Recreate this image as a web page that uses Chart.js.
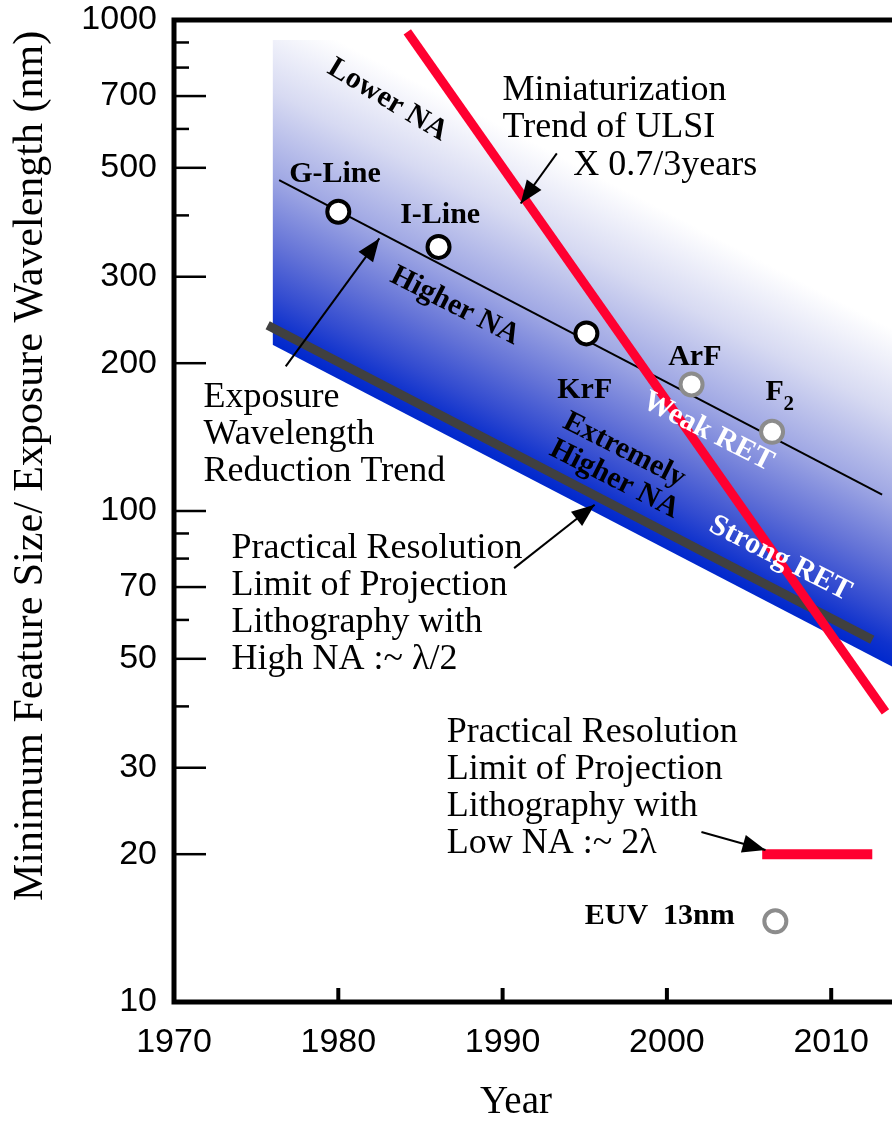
<!DOCTYPE html>
<html>
<head>
<meta charset="utf-8">
<script src="https://cdn.jsdelivr.net/npm/chart.js@4.4.1/dist/chart.umd.min.js"></script>
<style>
  html, body { margin: 0; padding: 0; background: #fff; }
  #wrap { width: 892px; height: 1121px; }
</style>
</head>
<body>
<div id="wrap"><canvas id="chart" width="892" height="1121"></canvas></div>
<script>
// axis ticks
const yearTicks = [1970, 1980, 1990, 2000, 2010];
const sizeTicks = [10, 20, 30, 50, 70, 100, 200, 300, 500, 700, 1000];
const sizeMinorTicks = [40, 60, 80, 90, 400, 600, 800, 900];

// exposure light sources
const sourceNames = ['G-Line', 'I-Line', 'KrF', 'ArF', 'F2', 'EUV'];
const sourceYears = [1980, 1986.1, 1995.1, 2001.5, 2006.4, 2006.6];
const sourceWavelengths = [407, 345, 230, 181, 145, 14.6];

// trend lines, start and end points
const wavelengthTrendYears = [1976.4, 2013.1];
const wavelengthTrendValues = [472, 108];
const ulsiTrendYears = [1984.2, 2013.3];
const ulsiTrendValues = [946, 39];
const highNaLimitYears = [1975.7, 2012.5];
const highNaLimitValues = [239, 54.7];
const lowNaLimitYears = [2005.8, 2012.5];
const lowNaLimitValues = [20, 20];

// shaded band (lower edge, filled up to bandTop)
const bandYears = [1976, 2013.7];
const bandLowerValues = [218, 48.2];
const bandTop = 910;

// annotation arrows: tail -> head
const arrowFromYears = [1993.3, 1976.8, 1990.7, 2002.1];
const arrowFromValues = [535, 197, 76.5, 22.2];
const arrowToYears = [1991.1, 1982.5, 1995.6, 2006.0];
const arrowToValues = [423, 359, 103, 20.4];

const SERIF = '"Liberation Serif", "Times New Roman", serif';
const bold = 'bold 30px ' + SERIF;
const plain = '36px ' + SERIF;

const notes = [
  { lines: ['Lower NA'], year: 1983.0, value: 687, angle: 31, font: bold, align: 'center', baseline: 'middle' },
  { lines: ['Miniaturization', 'Trend of ULSI'], year: 1990.0, value: 687, font: plain },
  { lines: ['X 0.7/3years'], year: 1994.3, value: 483, font: plain },
  { lines: ['G-Line'], year: 1979.8, value: 468, font: bold, align: 'center' },
  { lines: ['I-Line'], year: 1986.2, value: 386, font: bold, align: 'center' },
  { lines: ['Higher NA'], year: 1987.1, value: 261.5, angle: 27, font: bold, align: 'center', baseline: 'middle' },
  { lines: ['KrF'], year: 1995.0, value: 170, font: bold, align: 'center' },
  { lines: ['ArF'], year: 2001.7, value: 198, font: bold, align: 'center' },
  { lines: ['F'], year: 2006.0, value: 168, font: bold },
  { lines: ['2'], year: 2007.1, value: 160.6, font: 'bold 21px ' + SERIF },
  { lines: ['Weak RET'], year: 2002.5, value: 145, angle: 27, font: bold, align: 'center', baseline: 'middle', color: '#fff' },
  { lines: ['Extremely'], year: 1997.4, value: 133, angle: 27, font: bold, align: 'center', baseline: 'middle' },
  { lines: ['Higher NA'], year: 1996.8, value: 116, angle: 27, font: bold, align: 'center', baseline: 'middle' },
  { lines: ['Strong RET'], year: 2006.9, value: 80, angle: 27, font: bold, align: 'center', baseline: 'middle', color: '#fff' },
  { lines: ['Exposure', 'Wavelength', 'Reduction Trend'], year: 1971.8, value: 163, font: plain },
  { lines: ['Practical Resolution', 'Limit of Projection', 'Lithography with', 'High NA :~ \u03bb/2'], year: 1973.5, value: 80.2, font: plain },
  { lines: ['Practical Resolution', 'Limit of Projection', 'Lithography with', 'Low NA :~ 2\u03bb'], year: 1986.6, value: 33.9, font: plain },
  { lines: ['EUV  13nm'], year: 1995.0, value: 14.4, font: bold }
];

const pairs = (xs, ys) => xs.map((v, i) => ({ x: v, y: ys[i] }));

function bandFill(context) {
  const chart = context.chart;
  const { x, y } = chart.scales;
  if (!chart.chartArea || !x || !y) return 'rgba(0,0,0,0)';
  const x0 = x.getPixelForValue(bandYears[0]);
  const y0 = y.getPixelForValue(bandLowerValues[0]);
  const x1 = x.getPixelForValue(bandYears[1]);
  const y1 = y.getPixelForValue(bandLowerValues[1]);
  const len = Math.hypot(x1 - x0, y1 - y0);
  const nx = (y1 - y0) / len;
  const ny = -(x1 - x0) / len;
  const mx = (x0 + x1) / 2;
  const my = (y0 + y1) / 2;
  const g = chart.ctx.createLinearGradient(mx, my, mx + nx * 300, my + ny * 300);
  g.addColorStop(0, 'rgb(0,40,205)');
  g.addColorStop(0.06, 'rgb(15,50,205)');
  g.addColorStop(0.15, 'rgb(50,75,208)');
  g.addColorStop(0.3, 'rgb(100,115,215)');
  g.addColorStop(0.5, 'rgb(160,168,228)');
  g.addColorStop(0.75, 'rgb(215,218,242)');
  g.addColorStop(1, 'rgb(255,255,255)');
  return g;
}

const arrowSets = arrowFromYears.map((yr, i) => ({
  data: pairs([yr, arrowToYears[i]], [arrowFromValues[i], arrowToValues[i]]),
  borderColor: '#000',
  borderWidth: 2,
  pointRadius: 0,
  arrow: true,
  order: 1
}));

const decor = {
  id: 'decor',
  afterDatasetsDraw(chart) {
    const { ctx, chartArea: a, scales: { x, y } } = chart;
    ctx.save();

    // arrow heads
    chart.data.datasets.forEach((ds, i) => {
      if (!ds.arrow) return;
      const pts = chart.getDatasetMeta(i).data;
      const ang = Math.atan2(pts[1].y - pts[0].y, pts[1].x - pts[0].x);
      ctx.save();
      ctx.translate(pts[1].x, pts[1].y);
      ctx.rotate(ang);
      ctx.beginPath();
      ctx.moveTo(0, 0);
      ctx.lineTo(-23, -9);
      ctx.lineTo(-23, 9);
      ctx.closePath();
      ctx.fillStyle = '#000';
      ctx.fill();
      ctx.restore();
    });

    // frame
    ctx.strokeStyle = '#000';
    ctx.lineWidth = 5;
    ctx.lineCap = 'square';
    ctx.beginPath();
    ctx.moveTo(a.right + 5, a.top);
    ctx.lineTo(a.left, a.top);
    ctx.lineTo(a.left, a.bottom);
    ctx.lineTo(a.right + 5, a.bottom);
    ctx.stroke();

    // inward ticks
    ctx.lineCap = 'butt';
    ctx.lineWidth = 2.5;
    sizeTicks.forEach(v => {
      const py = y.getPixelForValue(v);
      ctx.beginPath(); ctx.moveTo(a.left, py); ctx.lineTo(a.left + 32, py); ctx.stroke();
    });
    sizeMinorTicks.forEach(v => {
      const py = y.getPixelForValue(v);
      ctx.beginPath(); ctx.moveTo(a.left, py); ctx.lineTo(a.left + 15, py); ctx.stroke();
    });
    ctx.lineWidth = 4;
    yearTicks.slice(1).forEach(v => {
      const px = x.getPixelForValue(v);
      ctx.beginPath(); ctx.moveTo(px, a.bottom); ctx.lineTo(px, a.bottom - 14); ctx.stroke();
    });

    // annotations
    notes.forEach(n => {
      ctx.save();
      ctx.translate(x.getPixelForValue(n.year), y.getPixelForValue(n.value));
      ctx.rotate((n.angle || 0) * Math.PI / 180);
      ctx.font = n.font;
      ctx.fillStyle = n.color || '#000';
      ctx.textAlign = n.align || 'left';
      ctx.textBaseline = n.baseline || 'alphabetic';
      n.lines.forEach((t, k) => ctx.fillText(t, 0, k * 37));
      ctx.restore();
    });

    // axis titles
    ctx.fillStyle = '#000';
    ctx.font = '39px ' + SERIF;
    ctx.textAlign = 'center';
    ctx.textBaseline = 'alphabetic';
    ctx.fillText('Year', 516, 1113);
    ctx.save();
    ctx.translate(42, 466);
    ctx.rotate(-Math.PI / 2);
    ctx.font = '42px ' + SERIF;
    ctx.fillText('Minimum Feature Size/ Exposure Wavelength (nm)', 0, 0);
    ctx.restore();

    ctx.restore();
  }
};

new Chart(document.getElementById('chart'), {
  type: 'line',
  data: {
    datasets: [
      {
        label: 'Light sources',
        data: pairs(sourceYears, sourceWavelengths),
        showLine: false,
        pointRadius: 11,
        pointBorderWidth: 4,
        pointBackgroundColor: '#fff',
        pointBorderColor: sourceNames.map((n, i) => i < 3 ? '#000' : '#8c8c8c'),
        order: 0
      },
      ...arrowSets,
      {
        label: 'Low NA limit',
        data: pairs(lowNaLimitYears, lowNaLimitValues),
        borderColor: '#ff0030',
        borderWidth: 10,
        borderCapStyle: 'butt',
        pointRadius: 0,
        order: 3
      },
      {
        label: 'Miniaturization trend',
        data: pairs(ulsiTrendYears, ulsiTrendValues),
        borderColor: '#ff0030',
        borderWidth: 9,
        borderCapStyle: 'butt',
        pointRadius: 0,
        order: 4
      },
      {
        label: 'Wavelength trend',
        data: pairs(wavelengthTrendYears, wavelengthTrendValues),
        borderColor: '#000',
        borderWidth: 2,
        pointRadius: 0,
        order: 5
      },
      {
        label: 'High NA limit',
        data: pairs(highNaLimitYears, highNaLimitValues),
        borderColor: '#404040',
        borderWidth: 9,
        borderCapStyle: 'butt',
        pointRadius: 0,
        order: 6
      },
      {
        label: 'Band',
        data: pairs(bandYears, bandLowerValues),
        borderColor: 'rgba(0,0,0,0)',
        borderWidth: 0,
        pointRadius: 0,
        backgroundColor: bandFill,
        fill: { value: bandTop },
        order: 9
      }
    ]
  },
  options: {
    responsive: false,
    animation: false,
    devicePixelRatio: 1,
    events: [],
    layout: { autoPadding: false, padding: { top: 20, right: 0, bottom: 0, left: 0 } },
    plugins: { legend: { display: false }, tooltip: { enabled: false } },
    scales: {
      x: {
        type: 'linear',
        min: 1970,
        max: 2013.7,
        afterBuildTicks: s => { s.ticks = yearTicks.map(v => ({ value: v })); },
        afterFit: s => { s.height = 119; s.paddingLeft = 0; s.paddingRight = 0; },
        grid: { display: false, drawTicks: false },
        border: { display: false },
        ticks: {
          autoSkip: false,
          maxRotation: 0,
          padding: 24,
          color: '#000',
          font: { family: '"Liberation Sans", Arial, sans-serif', size: 34, lineHeight: 1 },
          callback: v => String(v)
        }
      },
      y: {
        type: 'logarithmic',
        min: 10,
        max: 1000,
        afterBuildTicks: s => { s.ticks = sizeTicks.map(v => ({ value: v })); },
        afterFit: s => { s.width = 174; s.paddingTop = 0; s.paddingBottom = 0; },
        grid: { display: false, drawTicks: false },
        border: { display: false },
        ticks: {
          autoSkip: false,
          padding: 17,
          color: '#000',
          font: { family: '"Liberation Sans", Arial, sans-serif', size: 34, lineHeight: 1 },
          callback: v => String(v)
        }
      }
    }
  },
  plugins: [decor]
});
</script>
</body>
</html>
